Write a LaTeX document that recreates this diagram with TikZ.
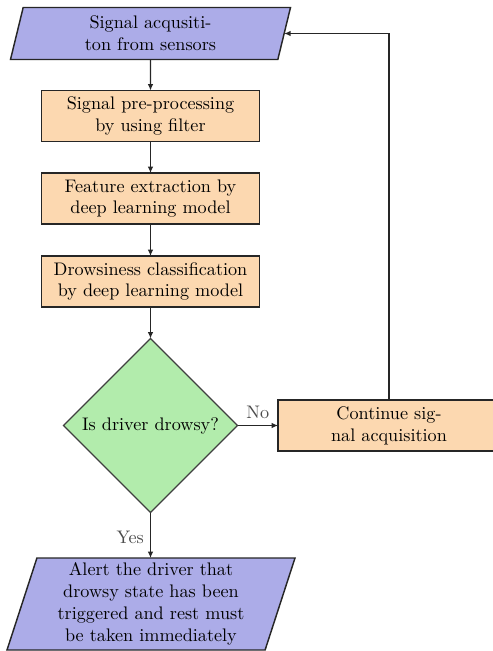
\documentclass[tikz,border=0pt]{standalone}
\usetikzlibrary{shapes.geometric,arrows.meta}
\definecolor{ioblue}{RGB}{172,172,232}
\definecolor{procorange}{RGB}{252,216,176}
\definecolor{decgreen}{RGB}{178,236,172}
\begin{document}
\begin{tikzpicture}[x=0.55pt,y=-0.55pt,
  every node/.style={font=\normalsize},
  io/.style={trapezium, trapezium left angle=70, trapezium right angle=110,
    trapezium stretches body, draw=black!85, thick, fill=ioblue, align=center,
    inner sep=0pt, outer sep=0pt},
  procbox/.style={rectangle, draw=black!85, thick, fill=procorange, align=center,
    minimum width=120pt, minimum height=28pt, inner sep=0pt, outer sep=0pt},
  decision/.style={diamond, draw=black!75, semithick, fill=decgreen, align=center,
    minimum width=95.7pt, minimum height=95.7pt, aspect=1, inner sep=0pt, outer sep=0pt},
  flow/.style={draw=black!85, semithick, -{Latex[length=3.5pt,width=3pt]}},
  lbl/.style={text=black!70}]
\useasboundingbox (0,0) rectangle (492,651);
\node[io, minimum width=154pt, minimum height=28.6pt] (src) at (150.5,33.5)
  {Signal acqusiti-\\ton from sensors};
\node[procbox] (pre) at (150.5,116) {Signal pre-processing\\by using filter};
\node[procbox] (feat) at (150.5,198.5) {Feature extraction by\\deep learning model};
\node[procbox] (cls) at (150.5,281.5) {Drowsiness classification\\by deep learning model};
\node[decision] (dec) at (150.5,425.5) {Is driver drowsy?};
\node[procbox, minimum width=122pt] (cont) at (389,425.5) {Continue sig-\\nal acquisition};
\node[io, minimum width=158.4pt, minimum height=50.6pt] (alert) at (151,604)
  {Alert the driver that\\drowsy state has been\\triggered and rest must\\be taken immediately};
\draw[flow] (src) -- (pre);
\draw[flow] (pre) -- (feat);
\draw[flow] (feat) -- (cls);
\draw[flow] (cls) -- (dec);
\draw[flow] (dec.east) -- node[lbl, above] {No} (cont.west);
\draw[flow] (dec.south) -- node[lbl, left, pos=0.55] {Yes} (alert.north -| dec.south);
\draw[flow] (cont.north) |- (src.east);
\end{tikzpicture}
\end{document}
